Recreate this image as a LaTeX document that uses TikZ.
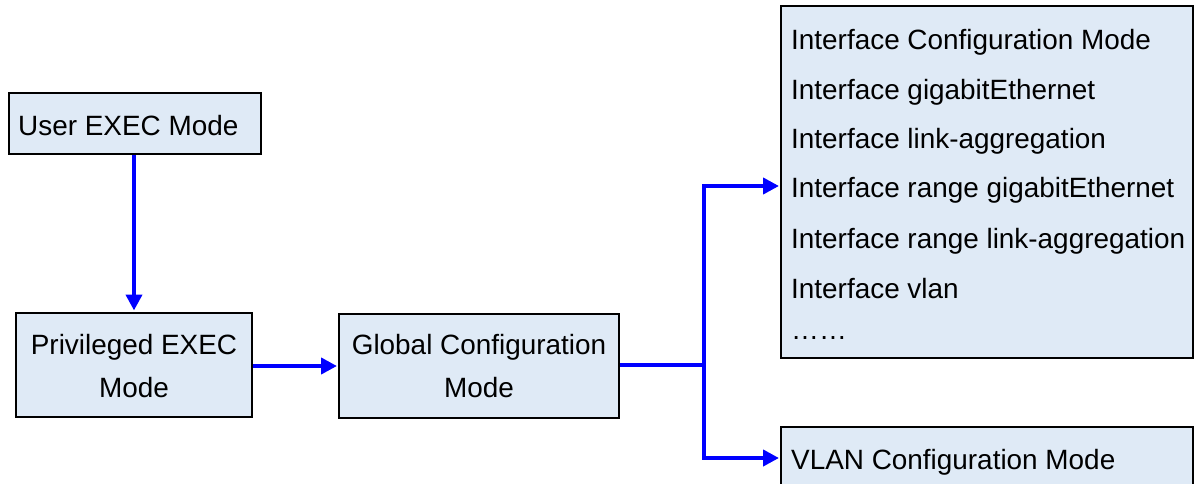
\documentclass[tikz,border=0pt]{standalone}
\usepackage{fontspec}
\setmainfont{Liberation Sans}
\usetikzlibrary{arrows.meta}
\definecolor{boxfill}{RGB}{223,234,246}
\definecolor{linkblue}{RGB}{0,0,255}
\tikzset{
  modebox/.style={draw=black, line width=2pt, fill=boxfill, rectangle, inner sep=0pt},
  txt/.style={inner sep=0pt, font=\fontsize{27.9}{33}\selectfont},
  link/.style={draw=linkblue, line width=4pt},
  linkarr/.style={link, -{Triangle[length=16pt,width=16pt]}, shorten >=1pt}
}
\begin{document}
\begin{tikzpicture}[x=1pt,y=-1pt]
\useasboundingbox (0,0) rectangle (1195,484);
% boxes
\node[modebox, minimum width=252pt, minimum height=61pt] (user) at (135,123.5) {};
\node[modebox, minimum width=236pt, minimum height=104pt] (priv) at (134,364.5) {};
\node[modebox, minimum width=280pt, minimum height=104pt] (glob) at (479,365.5) {};
\node[modebox, minimum width=412pt, minimum height=352pt] (iface) at (987,182) {};
\node[modebox, minimum width=412pt, minimum height=80pt] (vlan) at (987,467) {};
% texts
\node[txt, anchor=base west] (tuser) at (18,136) {User EXEC Mode};
\node[txt, anchor=base] (tpriv1) at (134,354) {Privileged EXEC};
\node[txt, anchor=base] (tpriv2) at (134,397) {Mode};
\node[txt, anchor=base] (tglob1) at (479,354) {Global Configuration};
\node[txt, anchor=base] (tglob2) at (479,397) {Mode};
\node[txt, anchor=base west] (ti1) at (791,50) {Interface Configuration Mode};
\node[txt, anchor=base west] (ti2) at (791,100) {Interface gigabitEthernet};
\node[txt, anchor=base west] (ti3) at (791,149) {Interface link-aggregation};
\node[txt, anchor=base west] (ti4) at (791,198) {Interface range gigabitEthernet};
\node[txt, anchor=base west] (ti5) at (791,248) {Interface range link-aggregation};
\node[txt, anchor=base west] (ti6) at (791,298) {Interface vlan};
\node[txt, anchor=base west] (ti7) at (791,339) {……};
\node[txt, anchor=base west] (tvlan) at (791,469) {VLAN Configuration Mode};
% connectors
\coordinate (junc) at (704,365);
\coordinate (ifin) at (780,186);
\coordinate (vin) at (780,458);
\draw[linkarr] (priv.north |- user.south) -- (priv.north);
\draw[linkarr] (priv.east |- 0,366) -- (glob.west |- 0,366);
\draw[link] (glob.east |- junc) -- (junc);
\draw[linkarr] (junc) |- (ifin);
\draw[linkarr] (junc) |- (vin);
\end{tikzpicture}
\end{document}
